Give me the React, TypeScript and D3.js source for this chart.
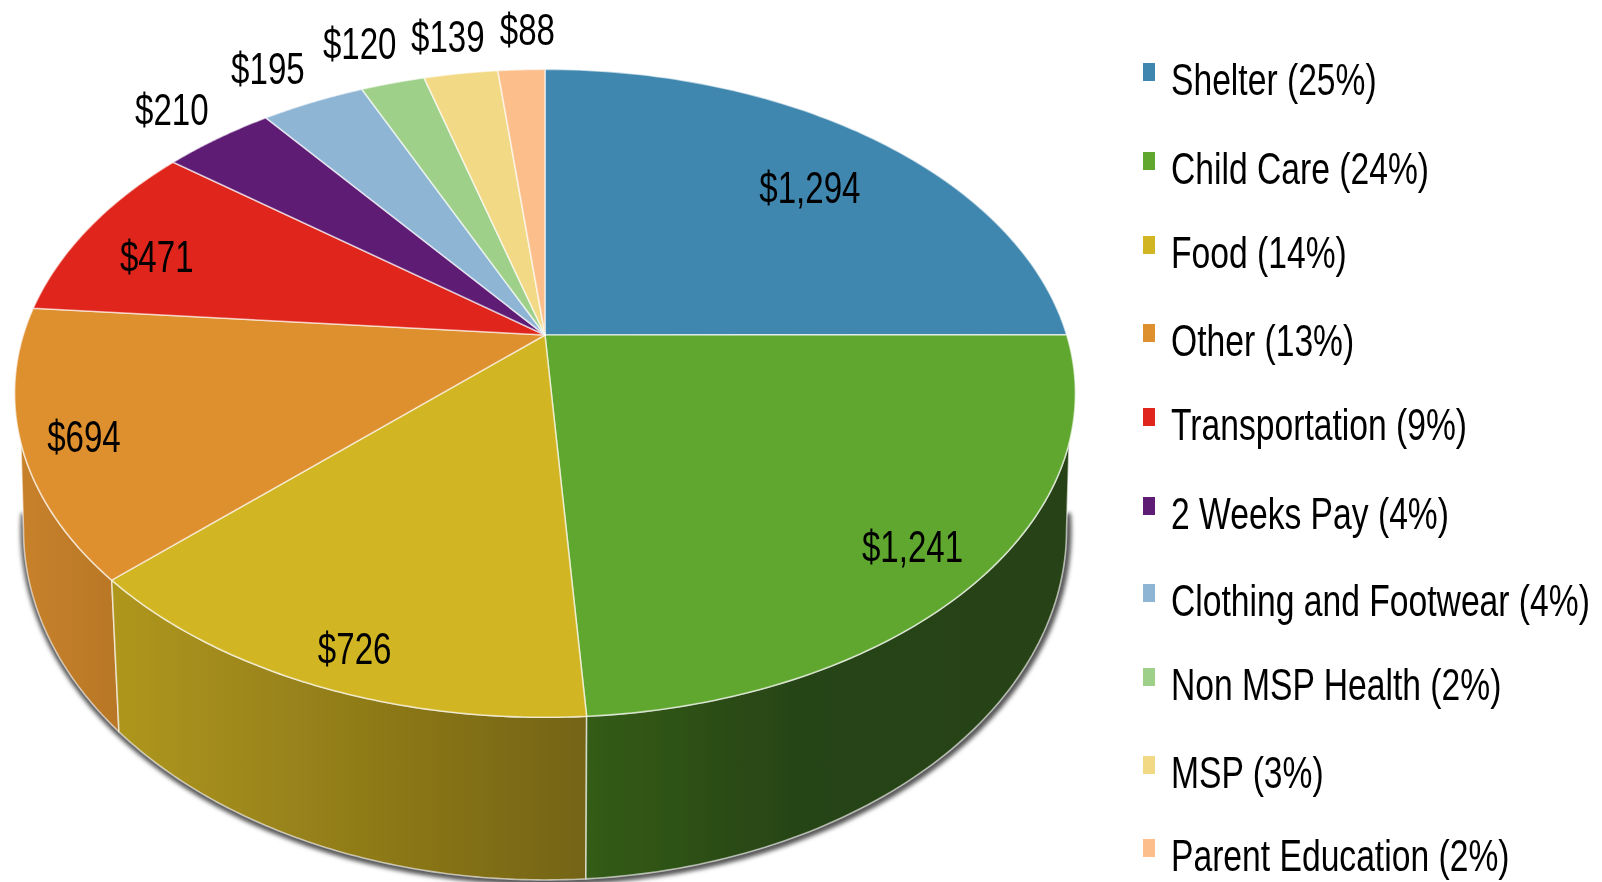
import React from "react";
import * as d3 from "d3";

const categories = ["Shelter", "Child Care", "Food", "Other", "Transportation", "2 Weeks Pay", "Clothing and Footwear", "Non MSP Health", "MSP", "Parent Education"];
const amounts = [1294, 1241, 726, 694, 471, 210, 195, 120, 139, 88];
const percents = [25, 24, 14, 13, 9, 4, 4, 2, 3, 2];
const colors = ["#3f87af", "#5fa72e", "#d2b524", "#de8f2f", "#e0281a", "#5e1a74", "#8fb5d5", "#9fd08a", "#f2d985", "#fcbf8c"];

// layout, not data
const labelNudges: [number, number][] = [[-18, 22], [6, 8], [-1, 24], [-20, 9], [3, 13], [-46, -29], [-45, -34], [-33, -40], [-13, -37], [6, -41]];
const legendRows = [95, 184, 268, 356, 440, 529, 616, 700, 788, 871];
const insideCount = 5;
const shadeStops: [number, number][] = [[20, 0.9], [120, 0.83], [400, 0.66], [585, 0.55], [800, 0.41], [1070, 0.4]];

const W = 1602, H = 882;
const CX = 545, TOP_CY = 335, BOT_CY = 467;
const K = 0.18;
const TOP_R = 521.7, TOP_H = 313.5, BOT_R = 513, BOT_H = 338.6;
const FONT = "'Liberation Sans', Arial, sans-serif";
const SX_LEGEND = 0.748, SX_LABEL = 0.735;
const TOP_TANGENT = (108.9 * Math.PI) / 180;
const BOT_TANGENT = Math.PI - Math.acos(K);

type Pt = [number, number];
const project = (a: number, r: number, R: number, Hh: number, cy: number): Pt => {
  const u = Math.sin(a) * r, v = -Math.cos(a) * r, w = 1 - K * v;
  return [CX + (R * u) / w, cy + (Hh * v) / w];
};
const topPt = (a: number, r = 1) => project(a, r, TOP_R, TOP_H, TOP_CY);
const botPt = (a: number) => project(a, 1, BOT_R, BOT_H, BOT_CY);
const sweep = (a0: number, a1: number, f: (a: number) => Pt): Pt[] =>
  d3.range(0, 81).map((i) => f(a0 + ((a1 - a0) * i) / 80));
const line = d3.line<Pt>();

const arcs = d3.pie<number>().sort(null).value((d) => d)(amounts);
const legendY = d3.scaleOrdinal<number, number>().domain(d3.range(categories.length)).range(legendRows);

function wallPath(a0: number, a1: number) {
  const topA = Math.max(a0, TOP_TANGENT), topB = Math.min(a1, 2 * Math.PI - TOP_TANGENT);
  const botA = a0 <= TOP_TANGENT ? BOT_TANGENT : a0;
  const botB = a1 >= 2 * Math.PI - TOP_TANGENT ? 2 * Math.PI - BOT_TANGENT : a1;
  return line([...sweep(topA, topB, topPt), ...sweep(botB, botA, botPt)]) + "Z";
}

export default function App() {
  const walls = arcs
    .map((a, i) => ({ a, i }))
    .filter(({ a }) => a.endAngle > Math.PI / 2 + 0.01 && a.startAngle < (3 * Math.PI) / 2)
    .reverse();
  const shade = d3.scaleLinear().domain([20, 1070]).range([0, 1]);
  return (
    <svg width={W} height={H} viewBox={`0 0 ${W} ${H}`} style={{ position: "absolute", left: 0, top: 0, background: "#fff" }}>
      <defs>
        <filter id="soft" x="-5%" y="-5%" width="110%" height="110%"><feGaussianBlur stdDeviation="0.55" /></filter>
        <filter id="textSoft" x="-10%" y="-10%" width="120%" height="120%"><feGaussianBlur stdDeviation="0.7" /></filter>
        <filter id="shadow" x="-10%" y="-10%" width="120%" height="120%"><feGaussianBlur stdDeviation="2.2" /></filter>
        {walls.map(({ i }) => (
          <linearGradient key={i} id={`wall${i}`} gradientUnits="userSpaceOnUse" x1={20} x2={1070} y1={0} y2={0}>
            {shadeStops.map(([x, f]) => {
              const c = d3.rgb(colors[i]);
              return <stop key={x} offset={shade(x)} stopColor={d3.rgb(c.r * f, c.g * f, c.b * f).formatHex()} />;
            })}
          </linearGradient>
        ))}
      </defs>
      <g filter="url(#soft)">
        <path
          d={line(sweep(BOT_TANGENT - 0.05, 2 * Math.PI - BOT_TANGENT + 0.05, botPt)) ?? ""}
          fill="none" stroke="#555" strokeWidth={8} filter="url(#shadow)" transform="translate(1,1)"
        />
        {walls.map(({ a, i }) => (
          <path key={i} d={wallPath(a.startAngle, a.endAngle)} fill={`url(#wall${i})`} stroke="#fff" strokeOpacity={0.6} strokeWidth={1.6} strokeLinejoin="round" />
        ))}
        {arcs.map((a, i) => (
          <path
            key={i}
            d={line([[CX, TOP_CY], ...sweep(a.startAngle, a.endAngle, (t) => topPt(t))]) + "Z"}
            fill={colors[i]} stroke="#fff" strokeOpacity={0.6} strokeWidth={1.6} strokeLinejoin="round"
          />
        ))}
        {categories.map((_, i) => (
          <rect key={i} x={1143} y={legendY(i) - 32} width={12} height={18} fill={colors[i]} />
        ))}
      </g>
      <g filter="url(#textSoft)" fontFamily={FONT} fontSize={45} fill="#000">
        {arcs.map((a, i) => {
          const mid = (a.startAngle + a.endAngle) / 2;
          const [x, y] = topPt(mid, i < insideCount ? 0.85 : 1);
          const [dx, dy] = labelNudges[i];
          return (
            <text key={i} textAnchor="middle" transform={`translate(${x + dx},${y + dy + 16}) scale(${SX_LABEL},1)`}>
              {d3.format("$,")(amounts[i])}
            </text>
          );
        })}
        {categories.map((c, i) => (
          <text key={c} transform={`translate(1171,${legendY(i)}) scale(${SX_LEGEND},1)`}>
            {`${c} (${percents[i]}%)`}
          </text>
        ))}
      </g>
    </svg>
  );
}
